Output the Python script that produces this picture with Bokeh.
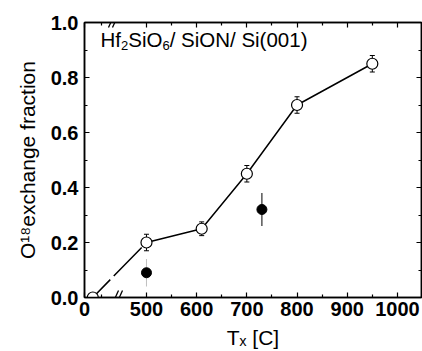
import math
from bokeh.plotting import figure
from bokeh.models import (Range1d, LinearAxis, FixedTicker, Label, Arrow,
                          Whisker, TeeHead, ColumnDataSource, CustomJSTickFormatter)
from bokeh.embed import file_html
from bokeh.resources import INLINE

# ---- data ----
t_open = [25, 500, 610, 700, 800, 950]
f_open = [0.0, 0.20, 0.25, 0.45, 0.70, 0.85]
e_open = [0.0, 0.03, 0.025, 0.03, 0.03, 0.03]
t_fill = [500, 730]
f_fill = [0.09, 0.32]
e_fill = [0.05, 0.06]
x_tick_values = [0, 500, 600, 700, 800, 900, 1000]
x_tick_labels = ["0", "500", "600", "700", "800", "900", "1000"]
x_minor_values = [50, 550, 650, 750, 850, 950]
y_tick_values = [0.0, 0.2, 0.4, 0.6, 0.8, 1.0]
y_minor_values = [0.1, 0.3, 0.5, 0.7, 0.9]
y_label = "O\u00b9\u2078exchange fraction"
x_label = "T\u2093 [C]"

# ---- broken x axis: 0..100 compressed, then linear from 500 ----
BREAK_HI = 500
U0 = 376.5
K = 0.661
def fwd(t):
    return t if t >= BREAK_HI else U0 + K * t

X0, X1 = U0 - 0.01, 1048.0
FONT = "Liberation Sans"

W, H = 422, 351
# frame in canvas pixels
FL, FR, FT, FB = 84, 421, 22, 297
def ux(px):
    return X0 + (px - FL) * (X1 - X0) / (FR - FL)
def uy(py):
    return (FB - py) / (FB - FT)

p = figure(width=W, height=H, x_range=Range1d(X0, X1), y_range=Range1d(0, 1),
           output_backend="svg", toolbar_location=None,
           min_border_left=FL, min_border_right=W - FR,
           min_border_top=FT, min_border_bottom=H - FB)
p.xgrid.visible = False
p.ygrid.visible = False
p.outline_line_color = "black"
p.outline_line_width = 1.5
p.background_fill_color = "white"
p.border_fill_color = "white"

xt_u = [fwd(v) for v in x_tick_values]
xm_u = [fwd(v) for v in x_minor_values]
xticker = FixedTicker(ticks=xt_u, minor_ticks=xm_u)
yticker = FixedTicker(ticks=y_tick_values, minor_ticks=y_minor_values)

xfmt = CustomJSTickFormatter(args=dict(vals=xt_u, labs=x_tick_labels), code="""
for (let i = 0; i < vals.length; i++) { if (Math.abs(vals[i] - tick) < 1e-6) return labs[i]; }
return "";
""")
yfmt = CustomJSTickFormatter(code="return tick.toFixed(1);")
blank = CustomJSTickFormatter(code="return '';")

def style(ax, labels=True):
    ax.axis_line_width = 1.5
    ax.major_tick_in = 5
    ax.major_tick_out = 0
    ax.minor_tick_in = 3
    ax.minor_tick_out = 0
    ax.major_tick_line_width = 1.2
    ax.minor_tick_line_width = 1.2
    if labels:
        ax.major_label_text_font = FONT
        ax.major_label_text_font_style = "bold"
        ax.major_label_text_font_size = "20px"
        ax.major_label_text_color = "black"
        ax.axis_label_text_font = FONT
        ax.axis_label_text_font_style = "normal"
        ax.axis_label_text_font_size = "21px"
        ax.axis_label_text_color = "black"
    else:
        ax.major_label_text_font_size = "0px"
        ax.major_label_standoff = 0

xa = p.xaxis[0]
xa.ticker = xticker
xa.formatter = xfmt
style(xa)
xa.major_label_standoff = 4
xa.axis_label = x_label
xa.axis_label_standoff = 7

ya = p.yaxis[0]
ya.ticker = yticker
ya.formatter = yfmt
style(ya)
ya.major_label_standoff = 6
ya.axis_label = y_label
ya.axis_label_standoff = 9

top = LinearAxis(ticker=xticker, formatter=blank)
style(top, labels=False)
p.add_layout(top, "above")
right = LinearAxis(ticker=yticker, formatter=blank)
style(right, labels=False)
p.add_layout(right, "right")

# ---- data marks ----
xo = [fwd(t) for t in t_open]
xf = [fwd(t) for t in t_fill]

p.line(xo[:2], f_open[:2], line_color="black", line_width=1.5,
       line_dash="40 5", line_dash_offset=15)
p.line(xo[1:], f_open[1:], line_color="black", line_width=1.5)

src_o = ColumnDataSource(dict(x=xo, y=f_open,
                              lo=[a - b for a, b in zip(f_open, e_open)],
                              hi=[a + b for a, b in zip(f_open, e_open)]))
src_f = ColumnDataSource(dict(x=xf, y=f_fill,
                              lo=[a - b for a, b in zip(f_fill, e_fill)],
                              hi=[a + b for a, b in zip(f_fill, e_fill)]))
p.add_layout(Whisker(source=src_o, base="x", lower="lo", upper="hi", line_color="black",
                     line_width=1,
                     upper_head=TeeHead(size=5, line_width=1),
                     lower_head=TeeHead(size=5, line_width=1)))
p.add_layout(Whisker(source=ColumnDataSource(dict(x=xf[1:], lo=src_f.data["lo"][1:], hi=src_f.data["hi"][1:])),
                     base="x", lower="lo", upper="hi", line_color="black", line_width=1,
                     upper_head=None, lower_head=None))
p.add_layout(Whisker(source=ColumnDataSource(dict(x=xf[:1], lo=src_f.data["lo"][:1], hi=src_f.data["hi"][:1])),
                     base="x", lower="lo", upper="hi", line_color="black", line_alpha=0.25,
                     line_width=1, upper_head=None, lower_head=None))

p.scatter("x", "y", source=src_o, size=11, marker="circle", fill_color="white",
          line_color="black", line_width=1.2)
p.scatter("x", "y", source=src_f, size=10, marker="circle", fill_color="black",
          line_color="black")

# ---- axis break marks ----
for (xa0, ya0, xa1, ya1) in [(113, 301, 118, 290), (117, 301, 122, 290),
                             (108, 27, 113, 16), (112, 27, 117, 16)]:
    p.add_layout(Arrow(end=None, start=None, x_start=ux(xa0), y_start=uy(ya0),
                       x_end=ux(xa1), y_end=uy(ya1), line_color="black", line_width=1.3))

# ---- in-plot annotation: Hf2SiO6/ SiON/ Si(001) ----
def lab(px, py, text, size):
    p.add_layout(Label(x=ux(px), y=uy(py), text=text, text_font=FONT,
                       text_font_size=f"{size}px", text_color="black",
                       text_align="left", text_baseline="alphabetic"))

TS, SS = 20.5, 13
x = 100.0
lab(x, 39, "Hf", TS); x += 1.0 * TS
lab(x, 45, "2", SS); x += 0.556 * SS
lab(x, 39, "SiO", TS); x += 1.667 * TS
lab(x, 45, "6", SS); x += 0.556 * SS
lab(x, 39, "/ SiON/ Si(001)", TS)

open("out.html", "w").write(file_html(p, INLINE))
